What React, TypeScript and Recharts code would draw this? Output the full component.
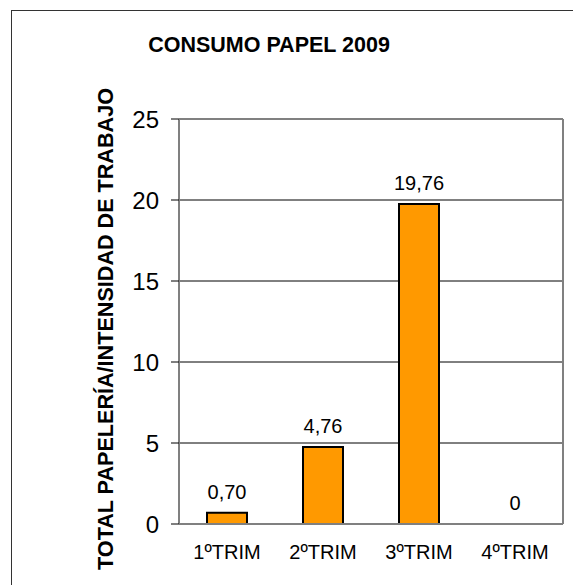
import {
  Bar,
  BarChart,
  CartesianGrid,
  LabelList,
  ReferenceDot,
  ReferenceLine,
  XAxis,
  YAxis,
} from "recharts";

const quarters = ["1ºTRIM", "2ºTRIM", "3ºTRIM", "4ºTRIM"];
const consumo = [0.7, 4.76, 19.76, 0];
const yTicks = [0, 5, 10, 15, 20, 25];
const edgeTicks = [0, 1, 2, 3, 4];

const data = quarters.map((q, i) => ({ q, v: consumo[i] }));

const FONT = "'Liberation Sans', Arial, sans-serif";
const GRAY = "#808080";
const LABEL_STYLE = { fill: "#000", fontSize: 20, fontFamily: FONT };

// Excel style: comma decimals, plain "0" for empty quarter
const fmt = (v: number) => (v === 0 ? "0" : v.toFixed(2).replace(".", ","));

export default function App() {
  return (
    <div
      style={{
        position: "absolute",
        left: 0,
        top: 0,
        width: 573,
        height: 585,
        overflow: "hidden",
        background: "#fff",
        fontFamily: FONT,
      }}
    >
      <div
        style={{
          position: "absolute",
          left: 11,
          top: 10,
          width: 620,
          height: 620,
          border: "1.5px solid #333",
        }}
      />
      <div
        style={{
          position: "absolute",
          left: 0,
          width: 538,
          top: 32,
          textAlign: "center",
          fontWeight: "bold",
          fontSize: 21.5,
          lineHeight: "26px",
        }}
      >
        CONSUMO PAPEL 2009
      </div>
      <svg
        width={573}
        height={585}
        style={{ position: "absolute", left: 0, top: 0 }}
      >
        <text
          x={0}
          y={0}
          transform="translate(113 329) rotate(-90)"
          textAnchor="middle"
          fontWeight="bold"
          fontSize={21.6}
          fontFamily={FONT}
        >
          TOTAL PAPELERÍA/INTENSIDAD DE TRABAJO
        </text>
      </svg>
      <div style={{ position: "absolute", left: 0, top: 0 }}>
        <BarChart
          width={573}
          height={585}
          data={data}
          margin={{ top: 119, right: 10, bottom: 31, left: 109 }}
          barCategoryGap={28}
        >
          <CartesianGrid vertical={false} stroke="#000" strokeWidth={1} />
          <CartesianGrid
            horizontal={false}
            verticalPoints={[563]}
            stroke={GRAY}
            strokeWidth={2}
          />
          <ReferenceLine y={25} stroke={GRAY} strokeWidth={2} />
          <XAxis
            xAxisId="edge"
            type="number"
            domain={[0, 4]}
            ticks={edgeTicks}
            allowDataOverflow
            height={0}
            axisLine={false}
            tickLine={{ stroke: GRAY, strokeWidth: 2 }}
            tickSize={5}
            tick={() => <g />}
          />
          <XAxis
            dataKey="q"
            height={30}
            axisLine={{ stroke: GRAY, strokeWidth: 2 }}
            tickLine={false}
            tickSize={0}
            tickMargin={21}
            tick={{ fill: "#000", fontSize: 20, fontFamily: FONT }}
          />
          <YAxis
            width={70}
            domain={[0, 25]}
            ticks={yTicks}
            axisLine={{ stroke: GRAY, strokeWidth: 2 }}
            tickLine={{ stroke: "#000", strokeWidth: 1 }}
            tickSize={8}
            tickMargin={12}
            tick={{ fill: "#000", fontSize: 24, fontFamily: FONT }}
          />
          <Bar
            dataKey="v"
            fill="#FF9900"
            stroke="#000"
            strokeWidth={2}
            barSize={40}
            isAnimationActive={false}
          >
            <LabelList
              dataKey="v"
              position="top"
              offset={14}
              formatter={(v: number) => fmt(Number(v))}
              style={LABEL_STYLE}
            />
          </Bar>
          {data
            .filter((d) => d.v === 0)
            .map((d) => (
              <ReferenceDot
                key={d.q}
                x={d.q}
                y={d.v}
                r={0}
                stroke="none"
                fill="none"
                label={{
                  value: fmt(d.v),
                  position: "top",
                  offset: 14,
                  ...LABEL_STYLE,
                }}
              />
            ))}
        </BarChart>
      </div>
    </div>
  );
}
